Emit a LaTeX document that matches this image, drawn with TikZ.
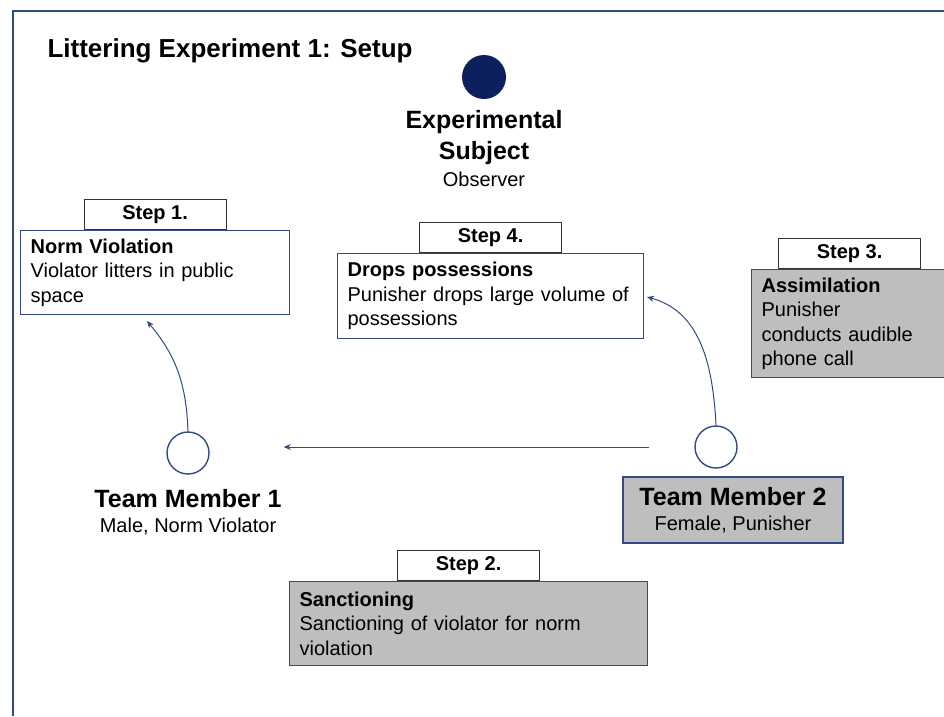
\documentclass[tikz,border=0pt]{standalone}
\usepackage{fontspec}
\setmainfont{Liberation Sans}
\usetikzlibrary{positioning, arrows.meta}

\definecolor{navyline}{HTML}{2F4A84}
\definecolor{navyfill}{HTML}{0C1F5E}
\definecolor{boxgray}{HTML}{BEBEBE}

\newcommand{\bodysize}{\fontsize{20}{24.5}\selectfont}
\newcommand{\headsize}{\fontsize{25}{31}\selectfont}

\begin{document}
\begin{tikzpicture}[x=1pt, y=-1pt,
    stepbox/.style={draw=navyline, line width=1.2pt, fill=white, align=left,
        anchor=north west, inner xsep=10pt, font=\bodysize},
    greybox/.style={stepbox, fill=boxgray},
    steptab/.style={draw=black!80, line width=1.2pt, fill=white,
        minimum width=142pt, minimum height=30pt, inner sep=0pt,
        font=\bodysize\bfseries},
    person/.style={circle, draw=navyline, line width=1.4pt,
        minimum size=42pt, inner sep=0pt},
    rolelabel/.style={align=center, font=\bodysize},
    flow/.style={-{Stealth[length=7pt, width=6pt]}, navyline, line width=1pt}]
    \useasboundingbox (0,0) rectangle (944,716);

    % Frame and title
    \draw[navyline, line width=1.5pt] (13,716) -- (13,11) -- (944,11);
    \node[anchor=west, font=\fontsize{26}{30}\selectfont\bfseries] (title)
        at (44,51) {Littering Experiment 1: Setup};

    % Experimental subject
    \node[circle, fill=navyfill, minimum size=44pt, inner sep=0pt] (subject) at (484,77) {};
    \node[align=center, font=\headsize\bfseries] (subjname) at (484,138)
        {Experimental\\Subject};
    \node[font=\bodysize] (subjrole) at (484,179) {Observer};

    % Step boxes
    \node[stepbox, text width=249pt, minimum height=84pt] (box1) at (20,230)
        {\textbf{Norm Violation}\\Violator litters in public\\space};
    \node[greybox, text width=338pt, minimum height=84pt] (box2) at (289,581)
        {\textbf{Sanctioning}\\Sanctioning of violator for norm\\violation};
    \node[greybox, text width=176pt, minimum height=108pt] (box3) at (751,269)
        {\textbf{Assimilation}\\Punisher\\conducts audible\\phone call};
    \node[stepbox, text width=286pt, minimum height=85pt] (box4) at (337,253)
        {\textbf{Drops possessions}\\Punisher drops large volume of\\possessions};

    % Step tabs
    \foreach \i in {1,...,4} {
        \node[steptab, above=0pt of box\i] (tab\i) {Step \i.};
    }

    % Team members
    \node[person] (member1) at (188,453) {};
    \node[person] (member2) at (716,447) {};
    \node[rolelabel] (member1txt) at (188,512)
        {{\headsize\bfseries Team Member 1}\\Male, Norm Violator};
    \node[rolelabel, draw=navyline, fill=boxgray, line width=1.2pt,
          minimum width=220pt, minimum height=66pt] (member2txt) at (733,510)
        {{\headsize\bfseries Team Member 2}\\Female, Punisher};

    % Arrows
    \coordinate (tip1) at (147,321);
    \coordinate (tip4) at (647,297);
    \draw[flow] (member1.north) to[out=92, in=-50] (tip1);
    \draw[flow] (member2.north) to[out=93, in=-15] (tip4);
    \draw[flow, shorten <=45pt, shorten >=74pt]
        (member2.west) -- (member2.west -| member1.east);
\end{tikzpicture}
\end{document}
